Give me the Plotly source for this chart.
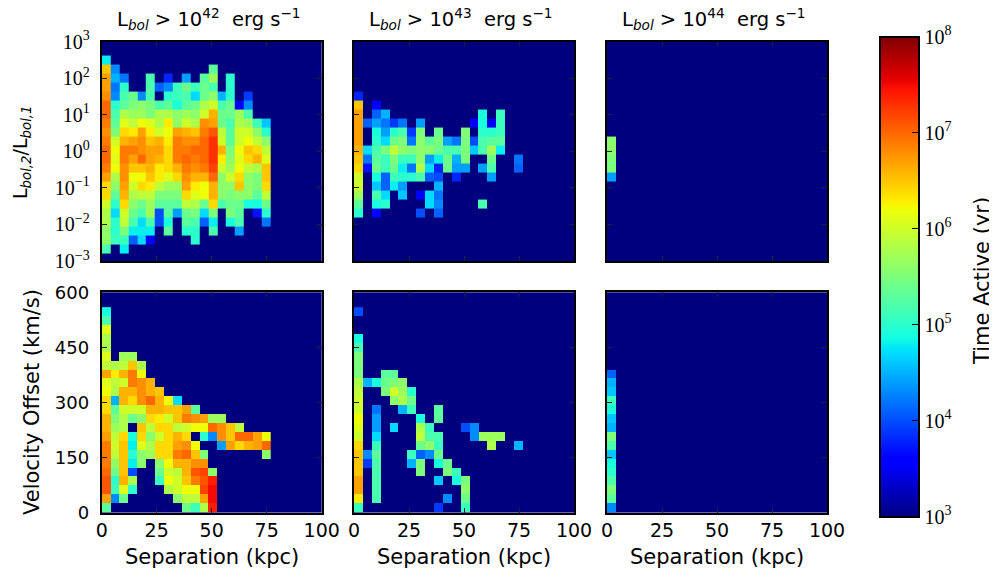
import plotly.graph_objects as go

# Cell values: log10(time active / yr). 0 = empty. Rows run top to bottom, columns left to right.
lum_42 = [
 [4.8],
 [6.5,4.3,0,0,0,0,0,0,0,0,0,0,5.3],
 [6.7,4.5,4.2,0,0,5.2,0,3.8,0,4.4,0,5.3,5.7,0,5.0],
 [6.7,4.2,5.0,0,0,5.2,4.1,4.3,5.1,5.4,5.1,5.4,5.2,0,5.0],
 [6.8,4.3,5.2,5.4,4.3,5.2,0,5.0,5.1,5.2,4.7,5.4,5.6,4.5,5.0,0,3.9],
 [7.0,5.0,5.3,5.5,5.6,5.5,5.2,5.3,4.9,5.3,5.4,5.8,6.0,5.2,5.4,3.6,4.3],
 [7.0,5.2,5.8,5.7,5.7,5.5,5.8,5.8,5.6,5.7,5.6,6.0,6.6,5.4,5.4,5.7,5.2],
 [6.9,5.3,6.1,5.9,6.2,6.1,5.8,6.3,5.6,6.0,5.8,6.8,6.7,5.4,5.2,5.8,5.7,5.1,4.6],
 [6.8,5.5,6.4,6.3,6.7,6.3,6.0,6.2,6.7,6.6,6.5,6.9,7.1,5.9,5.3,6.0,6.0,5.6,5.0],
 [6.9,6.0,6.6,6.7,6.8,6.5,6.6,6.3,6.9,6.8,6.8,7.0,7.3,6.0,5.3,6.0,6.2,5.9,5.6],
 [7.0,6.2,6.9,6.9,6.8,6.7,6.7,6.4,6.9,6.9,7.0,7.0,7.3,6.6,5.5,6.2,6.5,6.4,5.9],
 [7.0,6.1,6.9,6.7,7.0,6.7,6.6,6.4,6.9,7.0,6.9,7.0,7.3,6.3,5.6,6.1,6.4,6.6,6.1],
 [6.9,6.2,6.8,6.5,6.5,6.6,6.3,6.4,6.6,6.9,6.8,6.9,7.2,6.0,5.7,6.2,5.9,5.8,6.5],
 [6.7,5.8,6.8,6.2,6.2,6.5,6.3,6.1,6.4,6.8,6.6,6.6,7.0,5.6,6.0,6.4,5.6,5.5,6.5],
 [6.4,5.6,6.7,6.0,6.4,6.3,5.9,5.7,5.7,6.7,6.3,6.2,6.6,5.6,5.6,6.5,5.6,5.5,6.4],
 [6.4,5.3,6.6,5.8,5.9,5.9,5.5,5.5,5.5,6.4,6.1,6.2,6.6,5.6,5.5,5.6,5.6,5.3,5.9],
 [6.0,5.0,6.4,5.6,5.4,5.7,5.3,5.3,5.3,5.9,5.8,5.4,6.4,5.2,5.4,5.4,4.9,4.9,5.4],
 [5.8,4.7,6.0,5.4,5.2,5.7,4.0,5.3,4.4,5.4,5.5,4.7,5.5,0,5.5,5.3,0,3.7,5.0],
 [5.8,5.0,5.9,5.2,4.7,5.2,4.0,4.9,0,5.3,5.2,4.1,4.8,0,4.9,5.2,0,0,4.2],
 [5.6,5.0,5.5,4.8,4.8,4.8,0,5.3,0,5.0,5.0,0,5.2,0,0,4.4],
 [5.6,5.1,5.1,4.1,4.7,3.6,0,0,0,0,5.0],
 [5.2,0,4.8],
]
lum_43 = [
 [], [], [], [],
 [3.8],
 [6.5,0,3.6],
 [6.7,0,4.1,4.5,0,0,0,0,0,0,0,0,0,0,4.9,0,5.1],
 [6.7,4.1,4.4,4.2,3.9,4.2,0,4.4,0,0,0,0,0,3.6,4.9,3.5,5.1],
 [6.7,0,4.9,4.4,5.0,5.2,3.9,5.5,0,5.4,0,0,5.5,0,5.0,5.0,5.1],
 [6.7,0,5.0,4.7,5.4,5.5,4.2,5.6,5.3,5.5,4.4,4.2,5.5,4.0,5.2,5.3,5.3],
 [6.6,4.7,5.2,5.5,5.9,5.6,5.5,5.6,5.6,5.4,5.2,5.2,5.5,4.6,5.2,5.7,4.8],
 [6.5,4.2,5.3,5.1,5.5,5.1,5.1,5.6,4.4,4.8,5.4,4.5,5.5,0,0,5.4,0,0,4.2],
 [6.4,3.7,5.4,5.1,5.4,4.8,4.2,5.8,4.7,3.8,5.4,4.4,4.4,0,4.4,5.2,0,0,4.1],
 [6.0,0,4.9,4.1,5.1,5.0,5.0,5.2,4.1,4.0,0,3.8,0,0,0,4.4],
 [6.0,0,4.6,4.1,4.8,4.4,0,0,0,4.5],
 [5.7,0,5.2,4.7,0,4.6,0,3.6,4.7,4.2],
 [5.3,0,4.9,5.0,0,0,0,0,4.7,4.3,0,0,0,0,5.2],
 [5.0,0,3.6,0,0,0,0,4.0,0,4.1],
]
lum_44 = [
 [], [], [], [], [], [], [], [], [],
 [5.6], [5.6], [5.5], [5.5], [4.4],
]
vel_42 = [
 [4.9],
 [5.2],
 [6.1],
 [5.8],
 [5.8],
 [6.1,0,5.7,5.7],
 [5.9,5.8,5.9,6.5,5.8],
 [6.7,6.3,6.6,6.9,6.2],
 [6.1,5.9,6.0,6.9,6.8,6.6],
 [6.2,5.8,6.6,6.6,6.8,6.6,6.5],
 [6.4,4.5,6.6,6.4,6.8,7.0,6.6,6.2,4.7],
 [6.4,5.3,6.0,6.0,6.0,6.6,6.6,6.5,6.5,6.7,5.3],
 [6.6,5.5,5.8,5.4,5.6,6.4,6.3,6.0,6.5,6.9,6.8,6.7,5.7,5.7],
 [6.6,5.7,5.8,0,6.5,5.9,6.4,6.4,5.9,6.0,6.2,6.2,7.0,6.8,6.5,5.9],
 [6.7,5.9,6.4,4.9,6.4,5.6,6.0,6.4,6.6,6.4,0,5.0,4.3,6.8,6.5,7.0,7.0,6.7,6.2],
 [6.9,6.0,6.5,4.8,6.1,5.8,6.4,6.4,6.7,6.8,6.2,0,0,4.4,6.7,6.4,6.6,6.7,7.0],
 [6.9,5.9,6.5,5.0,5.6,5.7,6.4,6.4,6.9,7.0,6.5,5.5,0,0,0,0,0,0,5.6],
 [6.9,5.6,6.5,4.8,5.6,0,5.6,6.2,6.6,6.6,6.8,6.8],
 [7.0,5.4,6.5,4.0,0,0,5.4,6.0,5.9,6.6,7.1,7.2,5.6],
 [7.1,5.0,6.6,5.8,0,0,5.1,6.2,6.0,6.5,6.9,7.1,7.4],
 [7.1,5.1,6.1,5.0,0,0,0,5.8,6.0,6.2,6.2,7.2,7.5],
 [6.7,4.3,5.4,0,0,0,0,0,5.6,5.9,5.9,6.7,7.5],
 [5.3,0,0,0,0,0,0,0,0,5.4,5.1,5.8,7.4],
]
vel_43 = [
 [4.0],
 [],
 [],
 [4.9],
 [5.2],
 [5.5],
 [5.5],
 [5.5,0,0,5.3,5.3],
 [5.8,4.5,4.9,5.4,5.5,5.6],
 [5.9,0,0,5.5,6.0,5.7,5.0],
 [6.0,0,0,0,5.6,5.8,5.4],
 [6.0,0,4.2,0,0,4.5,5.1,0,0,5.3],
 [6.2,0,4.4,0,0,0,0,4.9,0,5.3],
 [6.1,0,4.4,0,4.7,0,0,5.8,5.1,0,0,0,4.0,4.3],
 [6.0,0,4.7,0,0,0,0,5.9,5.2,5.2,0,0,0,4.3,5.7,5.7,5.7],
 [6.4,0,5.1,0,0,0,0,5.4,5.6,5.1,0,0,0,0,0,5.8,0,0,4.5],
 [6.5,4.3,5.3,0,0,0,5.1,4.1,4.3,5.4],
 [6.5,3.9,5.2,0,0,0,4.5,5.5,0,4.9,5.4],
 [6.5,0,5.2,0,0,0,0,5.5,0,0,5.5,5.1],
 [6.7,0,5.2,0,0,0,0,0,0,4.6,0,4.9,5.5],
 [6.7,0,5.2,0,0,0,0,0,0,0,0,0,5.6],
 [6.3,0,5.2,0,0,0,0,0,0,0,4.3,0,5.4],
 [5.1,0,0,0,0,0,0,0,0,3.9,0,0,5.1],
]
vel_44 = [
 [], [], [], [], [], [], [],
 [4.1], [4.5], [4.6], [5.1], [4.9], [4.6], [4.5], [5.5], [5.2],
 [4.6], [4.9], [5.0], [5.2], [5.5], [5.3], [4.3],
]

column_titles = ["L<sub><i>bol</i></sub> > 10<sup>42</sup>  erg s<sup>−1</sup>",
                 "L<sub><i>bol</i></sub> > 10<sup>43</sup>  erg s<sup>−1</sup>",
                 "L<sub><i>bol</i></sub> > 10<sup>44</sup>  erg s<sup>−1</sup>"]
separation_ticks = [0, 25, 50, 75, 100]
velocity_ticks = [0, 150, 300, 450, 600]
ratio_exponents = [-3, -2, -1, 0, 1, 2, 3]
colorbar_exponents = [3, 4, 5, 6, 7, 8]
SEP_BIN = 4.04      # kpc per column
VEL_BIN = 24.33     # km/s per row
RATIO_BIN = 0.2462  # dex per row
RATIO_BOTTOM = -2.8 # log10 of lowest drawn row edge

BODY = 8            # the page's default body margin shifts the figure by this much
W, H = 997, 577
ML, MR, MT, MB = 92, 165, 27, 60
PW, PH = W - ML - MR, H - MT - MB
SANS = "DejaVu Sans"
SERIF = "Liberation Serif"
NAVY = "#00007f"


def frac_x(px):
    return (px - BODY - ML) / PW


def frac_y(px):
    return 1 - (px - BODY - MT) / PH


def jet():
    pts = [0, .11, .125, .34, .35, .375, .64, .65, .66, .89, .91, 1]

    def lerp(t, knots):
        for (a, va), (b, vb) in zip(knots, knots[1:]):
            if t <= b:
                return va + (vb - va) * (t - a) / (b - a)
        return knots[-1][1]
    rk = [(0, 0), (.35, 0), (.66, 1), (.89, 1), (1, .5)]
    gk = [(0, 0), (.125, 0), (.375, 1), (.64, 1), (.91, 0), (1, 0)]
    bk = [(0, .5), (.11, 1), (.34, 1), (.65, 0), (1, 0)]
    return [[t, "rgb(%d,%d,%d)" % tuple(round(255 * lerp(t, k)) for k in (rk, gk, bk))] for t in pts]


def filled(rows, total):
    """Pad rows to 19 columns and lift them to the top; empty cells show the navy background."""
    out = []
    for r in rows:
        r = list(r) + [0] * (19 - len(r))
        out.append([v if v > 0 else None for v in r])
    out += [[None] * 19 for _ in range(total - len(out))]
    return out[::-1]   # bottom row first


def label(text, px, py, size=21, angle=0):
    return dict(text=text, x=frac_x(px), y=frac_y(py), xref="paper", yref="paper",
                xanchor="center", yanchor="middle", textangle=angle, showarrow=False,
                font=dict(family=SANS, size=size, color="black"))


x_edges = [SEP_BIN * i for i in range(20)]

panels = [
    (lum_42, 101.7, 321.7, 41.5, 261.0),
    (lum_43, 354.0, 574.0, 41.5, 261.0),
    (lum_44, 607.0, 827.0, 41.5, 261.0),
    (vel_42, 101.7, 321.7, 292.3, 512.6),
    (vel_43, 354.0, 574.0, 292.3, 512.6),
    (vel_44, 607.0, 827.0, 292.3, 512.6),
]

fig = go.Figure()
layout = dict(
    width=W, height=H, margin=dict(l=ML, r=MR, t=MT, b=MB, pad=0), autosize=False,
    paper_bgcolor="white", plot_bgcolor=NAVY, showlegend=False,
    coloraxis=dict(
        cmin=3, cmax=8, colorscale=jet(),
        colorbar=dict(
            x=frac_x(880), xanchor="left", xpad=0, y=frac_y(36.7), yanchor="top", ypad=0,
            len=480 / PH, lenmode="fraction", thickness=38.5, thicknessmode="pixels",
            outlinewidth=2, outlinecolor="black", ticks="inside", ticklen=8, tickwidth=1,
            tickcolor="black", tickvals=colorbar_exponents,
            ticktext=["10<sup>%d</sup>" % e for e in colorbar_exponents],
            tickfont=dict(family=SERIF, size=20, color="black"),
        ),
    ),
    annotations=[],
)

for i, (rows, x0, x1, y0, y1) in enumerate(panels):
    n = i + 1
    is_top = i < 3
    total = 22 if is_top else 23
    z = filled(rows, total)
    if is_top:
        edges = [10 ** (RATIO_BOTTOM + RATIO_BIN * k) for k in range(total + 1)]
    else:
        edges = [VEL_BIN * k for k in range(total + 1)]
    fig.add_trace(go.Heatmap(z=z, x=x_edges, y=edges, coloraxis="coloraxis", xgap=0, ygap=0,
                             xaxis="x%d" % n, yaxis="y%d" % n))
    axis_common = dict(showline=True, linecolor="black", linewidth=2, mirror="allticks",
                       ticks="inside", ticklen=5, tickwidth=1, tickcolor="#222222",
                       showgrid=False, zeroline=False)
    xa = dict(axis_common, domain=[frac_x(x0), frac_x(x1)], range=[0, 100], anchor="y%d" % n,
              tickvals=separation_ticks, showticklabels=not is_top,
              tickfont=dict(family=SANS, size=19, color="black"))
    if is_top:
        ya = dict(axis_common, type="log", range=[-3, 3], domain=[frac_y(y1), frac_y(y0)],
                  anchor="x%d" % n, tickvals=[10.0 ** e for e in ratio_exponents],
                  ticktext=["10<sup>%s</sup>" % str(e).replace("-", "−") for e in ratio_exponents],
                  showticklabels=(i == 0), ticklabelstandoff=6,
                  tickfont=dict(family=SERIF, size=20, color="black"))
        layout["annotations"].append(label(column_titles[i], (x0 + x1) / 2 - 3, 19, size=19.5))
    else:
        ya = dict(axis_common, range=[0, 600], domain=[frac_y(y1), frac_y(y0)], anchor="x%d" % n,
                  tickvals=velocity_ticks, showticklabels=(i == 3), ticklabelstandoff=7,
                  tickfont=dict(family=SANS, size=18, color="black"))
        layout["annotations"].append(label("Separation (kpc)", (x0 + x1) / 2, 557))
    layout["xaxis%d" % n] = xa
    layout["yaxis%d" % n] = ya

layout["annotations"].append(label("L<sub><i>bol,2</i></sub>/L<sub><i>bol,1</i></sub>", 21, 152, size=19, angle=-90))
layout["annotations"].append(label("Velocity Offset (km/s)", 32, 402, angle=-90))
layout["annotations"].append(label("Time Active (yr)", 982, 281, angle=-90))

fig.update_layout(**layout)
fig.write_html("out.html")
